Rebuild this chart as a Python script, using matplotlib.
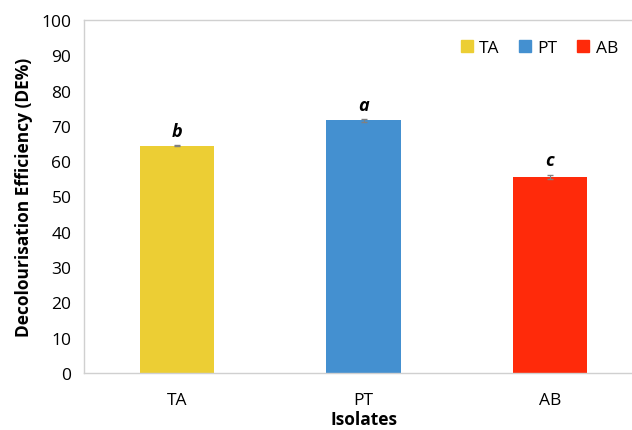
import matplotlib.pyplot as plt

isolates = ["TA", "PT", "AB"]
efficiency = [64.4, 71.6, 55.6]
errors = [0.2, 0.4, 0.6]
letters = ["b", "a", "c"]
colours = ["#ECCE34", "#4490D0", "#FF2A0A"]

plt.rcParams["font.family"] = ["Open Sans", "DejaVu Sans"]

fig = plt.figure(figsize=(6.32, 4.31), dpi=100)
# plot area runs slightly past the right edge of the picture, as in the original crop
ax = fig.add_axes([84 / 632, (431 - 374) / 431, 559 / 632, 353 / 431])

x = list(range(len(isolates)))
bars = ax.bar(x, efficiency, width=0.4, color=colours,
              yerr=errors, ecolor="#808080", capsize=2, error_kw={"elinewidth": 0.8})

for xi, v, e, lab in zip(x, efficiency, errors, letters):
    ax.text(xi, v + e + 1.5, lab, ha="center", va="bottom",
            fontsize=13, fontweight="bold", fontstyle="italic")

ax.set_xlim(-0.5, 2.5)
ax.set_ylim(0, 100)
ax.set_yticks(range(0, 101, 10))
ax.set_xticks(x)
ax.set_xticklabels(isolates)
ax.tick_params(length=0, labelsize=12.5, pad=9)
ax.tick_params(axis="x", pad=14)

for s in ax.spines.values():
    s.set_color("#D0D0D0")
    s.set_linewidth(1)

ax.set_ylabel("Decolourisation Efficiency (DE%)", fontsize=12.5, fontweight="bold", labelpad=6)
ax.set_xlabel("Isolates", fontsize=12.5, fontweight="bold", labelpad=1)

handles = [plt.Line2D([], [], marker="s", linestyle="", color=c, markersize=8) for c in colours]
ax.legend(handles, isolates, loc="center right", ncol=3, frameon=False, fontsize=12.5,
          handlelength=0.8, handletextpad=0.3, columnspacing=1.1, borderpad=0, borderaxespad=0,
          bbox_to_anchor=(618 / 632, (431 - 49) / 431), bbox_transform=fig.transFigure)

fig.savefig("out.png", dpi=100)
